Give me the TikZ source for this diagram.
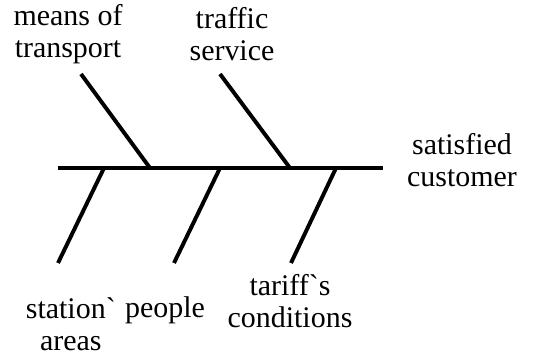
\documentclass[tikz,border=0pt]{standalone}
\usepackage{fontspec}
\setmainfont{Liberation Serif}
\usetikzlibrary{positioning}

\begin{document}
\begin{tikzpicture}[
  bone/.style={line width=2.8pt},
  cause/.style={align=center, font=\fontsize{21.3}{22.7}\selectfont, inner sep=0pt}
]
  \useasboundingbox (0,0) rectangle (13.45,8.9);

  % Spine with the effect at its head
  \coordinate (tail) at (1.45,4.7);
  \coordinate (head) at (9.575,4.7);
  \draw[bone] (tail) -- (head);
  \node[cause] (effect) at (11.55,4.9) {satisfied\\customer};

  % Upper bones
  \coordinate (u1) at (3.75,4.7);
  \coordinate (u1end) at (2.025,7.05);
  \draw[bone] (u1) -- (u1end);
  \node[cause] (transport) at (1.7,8.05) {means of\\transport};

  \coordinate (u2) at (7.25,4.7);
  \coordinate (u2end) at (5.5,7.05);
  \draw[bone] (u2) -- (u2end);
  \node[cause] (traffic) at (5.8,8.05) {traffic\\service};

  % Lower bones
  \coordinate (l1) at (2.6,4.7);
  \coordinate (l1end) at (1.45,2.325);
  \draw[bone] (l1) -- (l1end);
  \node[cause] (station) at (1.77,0.8) {station\textasciigrave\\areas};

  \coordinate (l2) at (5.5,4.7);
  \coordinate (l2end) at (4.35,2.325);
  \draw[bone] (l2) -- (l2end);
  \node[cause, anchor=base] (people) at (4.125,0.95) {people};

  \coordinate (l3) at (8.4,4.7);
  \coordinate (l3end) at (7.275,2.325);
  \draw[bone] (l3) -- (l3end);
  \node[cause] (tariff) at (7.25,1.37) {tariff\textasciigrave s\\conditions};

\end{tikzpicture}
\end{document}
